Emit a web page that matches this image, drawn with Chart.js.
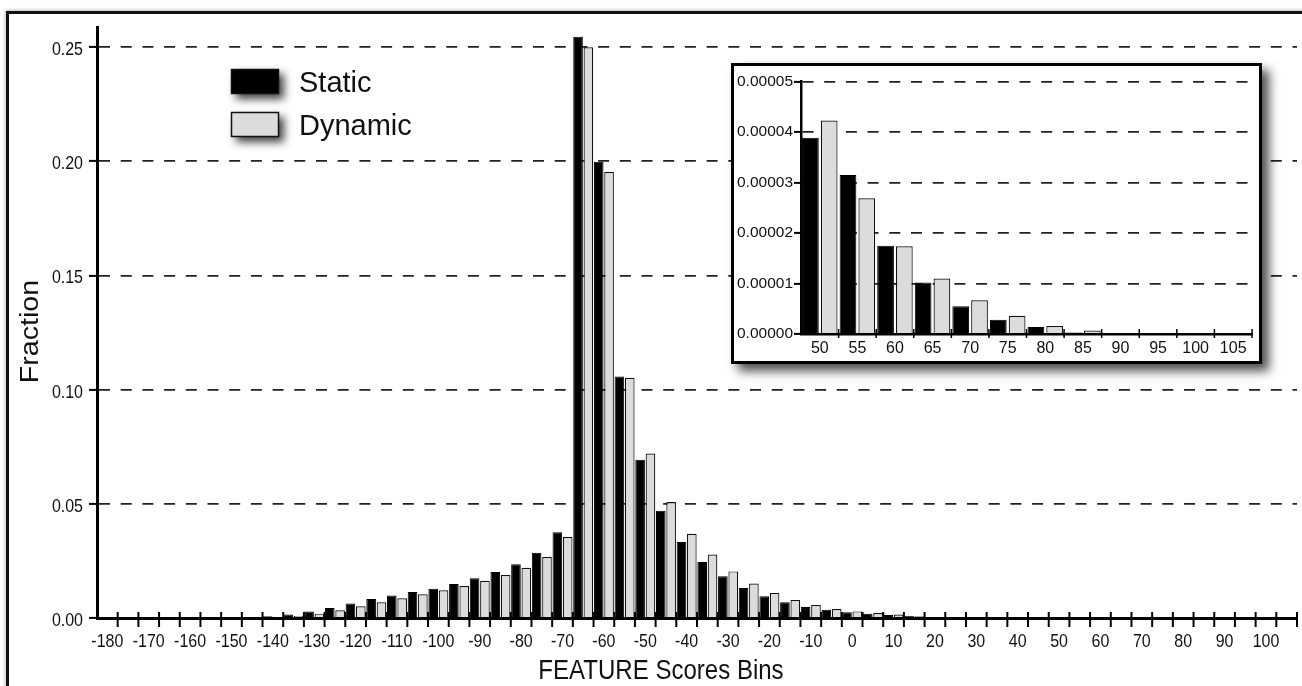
<!DOCTYPE html>
<html><head><meta charset="utf-8">
<script src="https://cdn.jsdelivr.net/npm/chart.js@4.4.0/dist/chart.umd.min.js"></script>
<style>
html,body{margin:0;padding:0;background:#fff;overflow:hidden;width:1302px;height:686px;}
#wrap{position:relative;width:1302px;height:686px;overflow:hidden;}
#frame{position:absolute;left:6px;top:11px;width:1400px;height:800px;border-left:3px solid #111;border-top:3px solid #111;box-shadow:-1px -1px 3px rgba(0,0,0,0.25);}
#main{position:absolute;left:0;top:0;}
#insetBox{position:absolute;left:731px;top:63px;width:531px;height:301px;box-sizing:border-box;border:3px solid #000;background:#fff;box-shadow:7px 7px 10px rgba(0,0,0,0.7);}
#inset{position:absolute;left:0;top:0;}
</style></head>
<body><div id="wrap"><div id="frame"></div><canvas id="main" width="1302" height="686"></canvas><div id="insetBox"><canvas id="inset" width="525" height="295"></canvas></div></div>
<script>
// ---- data ----
const categories = [-180,-175,-170,-165,-160,-155,-150,-145,-140,-135,-130,-125,-120,-115,-110,-105,-100,-95,-90,-85,-80,-75,-70,-65,-60,-55,-50,-45,-40,-35,-30,-25,-20,-15,-10,-5,0,5,10,15,20,25,30,35,40,45,50,55,60,65,70,75,80,85,90,95,100,105];
const staticValues = [0,0,0,0,0,0,0.0001,0.0004,0.0008,0.0015,0.0028,0.0044,0.0063,0.0083,0.0098,0.0114,0.0128,0.0149,0.0174,0.0201,0.0235,0.0286,0.0375,0.2545,0.1998,0.1058,0.0693,0.0470,0.0333,0.0245,0.0183,0.0131,0.0095,0.0069,0.0048,0.0036,0.0025,0.0019,0.0013,0.0009,0.0004,0.0002,0.00012,0.00008,0.00006,0.00005,0.0000389,0.0000315,0.0000175,0.0000102,0.0000055,0.0000028,0.0000014,0.0000003,0.0000001,0,0,0];
const dynamicValues = [0,0,0,0,0,0,0.0001,0.0002,0.0006,0.0009,0.0019,0.0034,0.0051,0.0069,0.0086,0.0104,0.0121,0.0140,0.0163,0.0188,0.0220,0.0267,0.0355,0.2499,0.1953,0.1052,0.0720,0.0508,0.0369,0.0278,0.0204,0.0151,0.0109,0.0079,0.0057,0.0039,0.0029,0.0022,0.0015,0.0008,0.0003,0.0002,0.00013,0.00009,0.00007,0.00005,0.0000423,0.0000269,0.0000174,0.0000110,0.0000067,0.0000036,0.0000016,0.0000007,0.0000002,0,0,0];
const seriesNames = ['Static','Dynamic'];
const insetCategories = [50,55,60,65,70,75,80,85,90,95,100,105];
const insetStatic = [0.0000389,0.0000315,0.0000175,0.0000102,0.0000055,0.0000028,0.0000014,0.0000003,0.0000001,0,0,0];
const insetDynamic = [0.0000423,0.0000269,0.0000174,0.0000110,0.0000067,0.0000036,0.0000016,0.0000007,0.0000002,0,0,0];
const xTitle = 'FEATURE Scores Bins';
const yTitle = 'Fraction';

const REG = '"Liberation Sans", Arial, Helvetica, sans-serif';
Chart.defaults.font.family = REG;
Chart.defaults.color = '#111';
Chart.defaults.animation = false;

const xTickLabel = i => (categories[i] % 10 === 0 ? String(categories[i]) : '');

const crossTicks = {
  id: 'crossTicks',
  afterDatasetsDraw(chart, args, opts) {
    const xs = chart.scales.x, ys = chart.scales.y, ctx = chart.ctx;
    const y0 = ys.getPixelForValue(0);
    const n = chart.data.labels.length;
    ctx.save();
    ctx.strokeStyle = '#000';
    ctx.lineWidth = opts.width;
    for (let i = 1; i <= n; i++) {
      const x = xs.getPixelForValue(i - 0.5);
      ctx.beginPath(); ctx.moveTo(x, y0 - opts.up); ctx.lineTo(x, y0 + opts.down); ctx.stroke();
    }
    ctx.restore();
  }
};

// tick labels drawn in a slightly condensed face, positioned from the library's scales
const condensedLabels = {
  id: 'condensedLabels',
  afterDraw(chart, args, o) {
    const ctx = chart.ctx, xs = chart.scales.x, ys = chart.scales.y;
    ctx.save();
    ctx.fillStyle = '#111';
    ctx.font = o.size + 'px ' + REG;
    ctx.textBaseline = 'alphabetic';
    ctx.textAlign = 'center';
    xs.ticks.forEach((t, i) => {
      const lab = xTickLabel(i);
      if (!lab) return;
      const x = xs.getPixelForTick(i);
      ctx.save(); ctx.translate(x, o.xBase); ctx.scale(o.sx, 1); ctx.fillText(lab, 0, 0); ctx.restore();
    });
    ctx.textAlign = 'right';
    ys.ticks.forEach(t => {
      const y = ys.getPixelForValue(t.value);
      ctx.save(); ctx.translate(o.yRight, y + o.yShift); ctx.scale(o.sx, 1); ctx.fillText(Number(t.value).toFixed(2), 0, 0); ctx.restore();
    });
    ctx.restore();
  }
};

const decor = {
  id: 'decor',
  afterDraw(chart) {
    const ctx = chart.ctx;
    ctx.save();
    ctx.fillStyle = '#111';
    ctx.textAlign = 'center'; ctx.textBaseline = 'alphabetic';
    ctx.save();
    ctx.translate(661, 679.3); ctx.scale(0.89, 1);
    ctx.font = '27px ' + REG;
    ctx.fillText(xTitle, 0, 0);
    ctx.restore();
    ctx.save();
    ctx.translate(38, 331.5); ctx.rotate(-Math.PI / 2); ctx.scale(1.1, 1);
    ctx.font = '26px ' + REG;
    ctx.fillText(yTitle, 0, 0);
    ctx.restore();
    const ds = chart.data.datasets;
    const boxes = [{y: 69}, {y: 112}];
    ds.forEach((d, i) => {
      const b = boxes[i];
      ctx.save();
      ctx.shadowColor = 'rgba(0,0,0,0.75)';
      ctx.shadowBlur = 8; ctx.shadowOffsetX = 5; ctx.shadowOffsetY = 5;
      ctx.fillStyle = d.backgroundColor;
      ctx.fillRect(231, b.y, 48, 25);
      ctx.restore();
      ctx.strokeStyle = '#111'; ctx.lineWidth = 1.5;
      ctx.strokeRect(231.5, b.y + 0.5, 47, 24);
      ctx.fillStyle = '#111';
      ctx.font = '29px ' + REG;
      ctx.textAlign = 'left'; ctx.textBaseline = 'alphabetic';
      ctx.fillText(d.label, 299, b.y + 23.3);
    });
    ctx.restore();
  }
};

new Chart(document.getElementById('main'), {
  type: 'bar',
  data: {
    labels: categories,
    datasets: [
      {label: seriesNames[0], data: staticValues, backgroundColor: '#000000', borderColor: '#000', borderWidth: 1},
      {label: seriesNames[1], data: dynamicValues, backgroundColor: '#dcdcdc', borderColor: '#111', borderWidth: 1.2}
    ]
  },
  plugins: [crossTicks, condensedLabels, decor],
  options: {
    responsive: false, devicePixelRatio: 1,
    layout: {padding: {top: 27, right: 5, left: 0, bottom: 0}},
    datasets: {bar: {barPercentage: 0.93, categoryPercentage: 1}},
    plugins: {legend: {display: false}, tooltip: {enabled: false},
      crossTicks: {up: 6, down: 9, width: 2},
      condensedLabels: {size: 18.6, sx: 0.86, xBase: 646.7, yRight: 83, yShift: 8}},
    scales: {
      x: {
        type: 'category',
        offset: true,
        grid: {display: false, drawTicks: false},
        border: {display: true, color: '#000', width: 3, z: 1},
        ticks: {display: false, autoSkip: false, maxRotation: 0, minRotation: 0, callback: (v, i) => xTickLabel(i)},
        afterFit: s => { s.height = 68; }
      },
      y: {
        type: 'linear', min: 0, max: 0.2588,
        grid: {color: '#222', lineWidth: 1.8, tickLength: 8, tickColor: '#000', tickWidth: 2, tickBorderDash: []},
        border: {display: true, color: '#000', width: 3, z: 1, dash: [11, 10.7]},
        ticks: {display: false, stepSize: 0.05, includeBounds: false, callback: v => Number(v).toFixed(2)},
        afterBuildTicks: s => { s.ticks = s.ticks.filter(t => t.value <= 0.2501); },
        afterFit: s => { s.width = 97; }
      }
    }
  }
});

new Chart(document.getElementById('inset'), {
  type: 'bar',
  data: {
    labels: insetCategories,
    datasets: [
      {label: seriesNames[0], data: insetStatic, backgroundColor: '#000000', borderColor: '#000', borderWidth: 1},
      {label: seriesNames[1], data: insetDynamic, backgroundColor: '#dcdcdc', borderColor: '#111', borderWidth: 1.2}
    ]
  },
  plugins: [crossTicks],
  options: {
    responsive: false, devicePixelRatio: 1,
    layout: {padding: {top: 15.7, right: 7, left: 0, bottom: 0}},
    datasets: {bar: {barPercentage: 0.89, categoryPercentage: 1}},
    plugins: {legend: {display: false}, tooltip: {enabled: false}, crossTicks: {up: 5, down: 4, width: 1.5}},
    scales: {
      x: {
        type: 'category', offset: true,
        grid: {display: false, drawTicks: false},
        border: {display: true, color: '#000', width: 2.5, z: 1},
        ticks: {autoSkip: false, maxRotation: 0, minRotation: 0, padding: 5, font: {size: 16}, color: '#111'},
        afterFit: s => { s.height = 27; }
      },
      y: {
        type: 'linear', min: 0, max: 0.00005,
        grid: {color: '#222', lineWidth: 1.8, tickLength: 7, tickColor: '#000', tickWidth: 2, tickBorderDash: []},
        border: {display: true, color: '#000', width: 2.5, z: 1, dash: [11, 10.7]},
        ticks: {stepSize: 0.00001, padding: 1, font: {size: 15.5}, color: '#111',
          callback: v => Number(v).toFixed(5)},
        afterFit: s => { s.width = 67; }
      }
    }
  }
});
</script>
</body></html>
